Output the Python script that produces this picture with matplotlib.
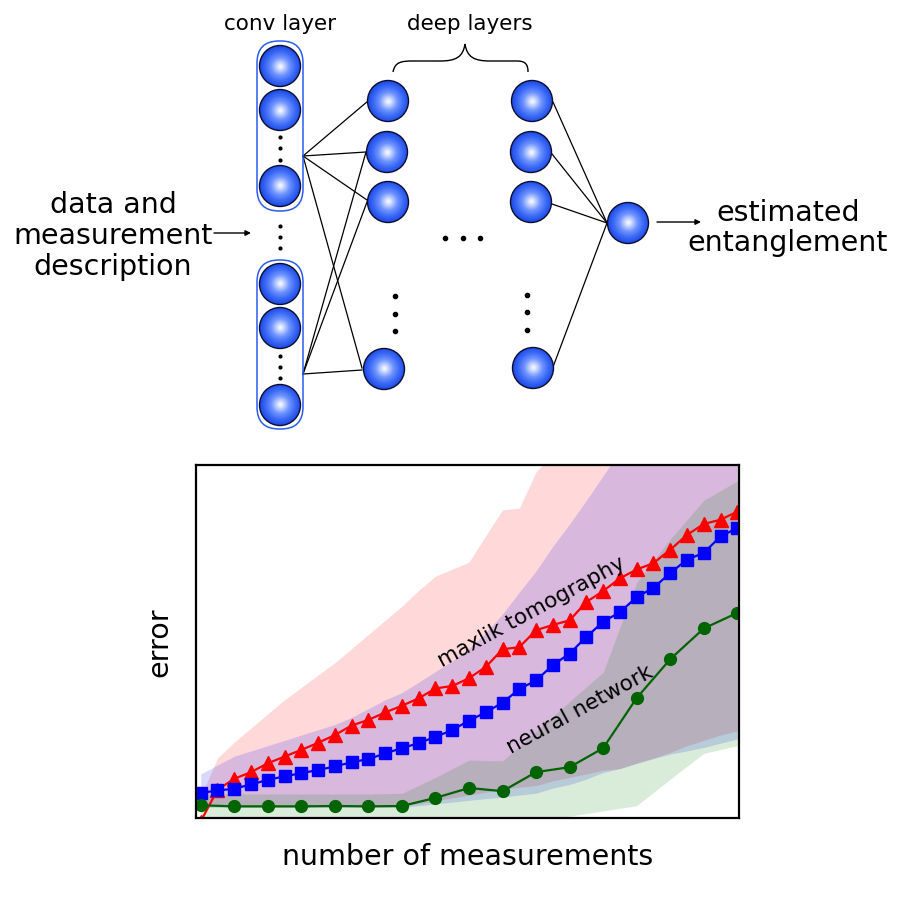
import numpy as np
import matplotlib
matplotlib.use("Agg")
import matplotlib.pyplot as plt
from matplotlib.patches import Circle, FancyBboxPatch, PathPatch
from matplotlib.path import Path
from matplotlib.colors import LinearSegmentedColormap

# ---------------- data (bottom chart) ----------------
measurements = list(range(33))
measurements_nn = measurements[::2]

maxlik_error = [-0.01, 0.080, 0.111, 0.130, 0.155, 0.174, 0.193, 0.213, 0.235, 0.262,
                0.278, 0.299, 0.318, 0.339, 0.367, 0.374, 0.396, 0.428, 0.478, 0.484,
                0.532, 0.547, 0.560, 0.612, 0.643, 0.679, 0.704, 0.722, 0.760, 0.802,
                0.833, 0.845, 0.868]
maxlik_hi = [0.06, 0.17, 0.215, 0.255, 0.295, 0.335, 0.37, 0.405, 0.44, 0.48,
             0.52, 0.56, 0.60, 0.645, 0.685, 0.705, 0.725, 0.80, 0.873, 0.878,
             0.981, 1.03, 1.08, 1.12, 1.16, 1.20, 1.24, 1.28, 1.32, 1.36,
             1.40, 1.44, 1.48]
maxlik_lo = [0.035, 0.035, 0.035, 0.035, 0.035, 0.035, 0.035, 0.035, 0.035, 0.035,
             0.035, 0.035, 0.035, 0.04, 0.049, 0.057, 0.065, 0.073, 0.082, 0.087,
             0.092, 0.105, 0.115, 0.125, 0.135, 0.14, 0.155, 0.17, 0.186, 0.205,
             0.22, 0.235, 0.247]

linear_error = [0.071, 0.078, 0.083, 0.095, 0.108, 0.118, 0.127, 0.136, 0.146, 0.158,
                0.167, 0.183, 0.198, 0.212, 0.230, 0.249, 0.276, 0.299, 0.327, 0.365,
                0.390, 0.433, 0.466, 0.513, 0.556, 0.583, 0.626, 0.652, 0.694, 0.732,
                0.751, 0.798, 0.821]
linear_hi = [0.125, 0.15, 0.175, 0.19, 0.205, 0.22, 0.235, 0.25, 0.265, 0.285,
             0.31, 0.335, 0.355, 0.385, 0.415, 0.445, 0.48, 0.525, 0.578, 0.64,
             0.70, 0.77, 0.833, 0.90, 0.97, 1.04, 1.10, 1.16, 1.22, 1.28,
             1.34, 1.40, 1.45]
linear_lo = [0.03, 0.03, 0.03, 0.03, 0.03, 0.03, 0.03, 0.03, 0.03, 0.03,
             0.03, 0.03, 0.03, 0.035, 0.04, 0.045, 0.05, 0.055, 0.059, 0.065,
             0.07, 0.085, 0.095, 0.11, 0.129, 0.14, 0.155, 0.168, 0.181, 0.19,
             0.2, 0.212, 0.224]

nn_error = [0.036, 0.033, 0.033, 0.033, 0.034, 0.033, 0.034, 0.057, 0.085,
            0.076, 0.130, 0.144, 0.198, 0.340, 0.450, 0.537, 0.581]
nn_hi = [0.068, 0.068, 0.068, 0.068, 0.068, 0.068, 0.07, 0.115, 0.164,
         0.162, 0.245, 0.33, 0.413, 0.667, 0.79, 0.90, 0.955]
nn_lo = [-0.01, -0.01, -0.01, -0.01, -0.01, 0.0, 0.0, 0.0, 0.0,
         0.0, 0.0, 0.005, 0.02, 0.035, 0.11, 0.183, 0.205]

# ---------------- diagram layout (pixel coordinates) ----------------
R = 20.5
conv_x = 280
conv_y = [67, 111, 187, 285, 329, 406]
deep1 = [(388, 102), (387, 153), (388, 203), (384, 370)]
deep2 = [(532, 102), (531, 153), (531, 203), (533, 369)]
out_node = (628, 224)

fig = plt.figure(figsize=(9.0, 9.03), dpi=100)

# ---- top diagram ----
d = fig.add_axes([0, 0, 1, 1], zorder=0)
d.set_xlim(0, 900)
d.set_ylim(903, 0)
d.axis("off")

cmap = LinearSegmentedColormap.from_list(
    "sph", [(0.0, "#ffffff"), (0.15, "#d2ddff"), (0.45, "#6e93ff"),
            (0.75, "#3a68f5"), (1.0, "#1e4ce6")])
n = 80
yy, xx = np.mgrid[-1:1:n * 1j, -1:1:n * 1j]
dist = np.sqrt(xx ** 2 + yy ** 2)


def sphere(cx, cy, r=R):
    circ = Circle((cx, cy), r, facecolor="none", edgecolor="#0d0d30", lw=1.0, zorder=4)
    d.add_patch(circ)
    im = d.imshow(dist, cmap=cmap, vmin=0, vmax=1,
                  extent=(cx - r, cx + r, cy + r, cy - r),
                  interpolation="bilinear", zorder=3)
    im.set_clip_path(circ)


# conv boxes
for (y0, y1) in [(42, 212), (261, 430)]:
    box = FancyBboxPatch((257, y0), 46, y1 - y0,
                         boxstyle="round,pad=0,rounding_size=22",
                         facecolor="none", edgecolor="#2a5cf0", lw=1.1, zorder=2)
    d.add_patch(box)

# connections
A = (303, 157)
B = (303, 375)
for (tx, ty) in [(368, 102), (366, 153), (367, 201), (362, 369)]:
    d.plot([A[0], tx], [A[1], ty], color="black", lw=0.9, zorder=1)
for (tx, ty) in [(366, 153), (367, 203), (362, 371)]:
    d.plot([B[0], tx], [B[1], ty], color="black", lw=0.9, zorder=1)
for (sx, sy) in [(553, 103), (552, 155), (552, 205), (553, 368)]:
    d.plot([sx, 607], [sy, 224], color="black", lw=0.9, zorder=1)

# nodes
for y in conv_y:
    sphere(conv_x, y)
for (x, y) in deep1 + deep2:
    sphere(x, y)
sphere(*out_node)

# dots
d.plot([280, 280, 280], [138, 149, 161], "o", color="black", ms=2.0, zorder=5)
d.plot([280, 280, 280], [227, 238, 249], "o", color="black", ms=2.0, zorder=5)
d.plot([280, 280, 280], [357, 368, 379], "o", color="black", ms=2.0, zorder=5)
d.plot([395, 395, 395], [297, 315, 332], "o", color="black", ms=3.0, zorder=5)
d.plot([527, 527, 527], [296, 313, 331], "o", color="black", ms=3.0, zorder=5)
d.plot([445, 463, 480], [239, 239, 239], "o", color="black", ms=3.0, zorder=5)

# brace
verts = [(393, 73), (395, 63), (401, 62), (413, 62),
         (440, 62),
         (456, 62), (463, 58), (465, 45),
         (467, 58), (474, 62), (490, 62),
         (517, 62),
         (526, 62), (528, 66), (528, 73)]
codes = [Path.MOVETO, Path.CURVE4, Path.CURVE4, Path.CURVE4,
         Path.LINETO,
         Path.CURVE4, Path.CURVE4, Path.CURVE4,
         Path.CURVE4, Path.CURVE4, Path.CURVE4,
         Path.LINETO,
         Path.CURVE4, Path.CURVE4, Path.CURVE4]
d.add_patch(PathPatch(Path(verts, codes), facecolor="none", edgecolor="black", lw=1.0))

# arrows
d.annotate("", xy=(251, 234), xytext=(214, 234),
           arrowprops=dict(arrowstyle="-|>", lw=1.0, color="black", mutation_scale=8,
                           shrinkA=0, shrinkB=0))
d.annotate("", xy=(701, 223), xytext=(657, 223),
           arrowprops=dict(arrowstyle="-|>", lw=1.0, color="black", mutation_scale=8,
                           shrinkA=0, shrinkB=0))

# texts
d.text(280, 24, "conv layer", ha="center", va="center", fontsize=15.5)
d.text(470, 24, "deep layers", ha="center", va="center", fontsize=15.5)
d.text(113, 236, "data and\nmeasurement\ndescription", ha="center", va="center",
       fontsize=20.5, linespacing=1.12)
d.text(788, 228, "estimated\nentanglement", ha="center", va="center",
       fontsize=20.5, linespacing=1.1)

# ---- bottom chart ----
ax = fig.add_axes([196 / 900, 1 - 819 / 903, 543 / 900, 353 / 903], zorder=1)
ax.fill_between(measurements, maxlik_lo, maxlik_hi, color="red", alpha=0.15, lw=0)
ax.fill_between(measurements, linear_lo, linear_hi, color="blue", alpha=0.15, lw=0)
ax.fill_between(measurements_nn, nn_lo, nn_hi, color="green", alpha=0.15, lw=0)

ax.plot(measurements, maxlik_error, "-^", color="red", ms=9.5, lw=1.6)
ax.plot(measurements, linear_error, "-s", color="blue", ms=8.0, lw=1.6)
ax.plot(measurements_nn, nn_error, "-o", color="darkgreen", ms=8.5, lw=1.6)

ax.text(19.7, 0.586, "maxlik tomography", rotation=28.5, ha="center", va="center",
        fontsize=15.5, rotation_mode="anchor")
ax.text(22.6, 0.309, "neural network", rotation=28.5, ha="center", va="center",
        fontsize=15.5, rotation_mode="anchor")

ax.set_xlim(-0.28, 32.1)
ax.set_ylim(0, 1)
ax.set_xticks([])
ax.set_yticks([])
for s in ax.spines.values():
    s.set_linewidth(1.6)
    s.set_color("black")
ax.set_xlabel("number of measurements", fontsize=20.5, labelpad=17)
ax.set_ylabel("error", fontsize=20.5, labelpad=16)

fig.savefig("out.png", dpi=100)
